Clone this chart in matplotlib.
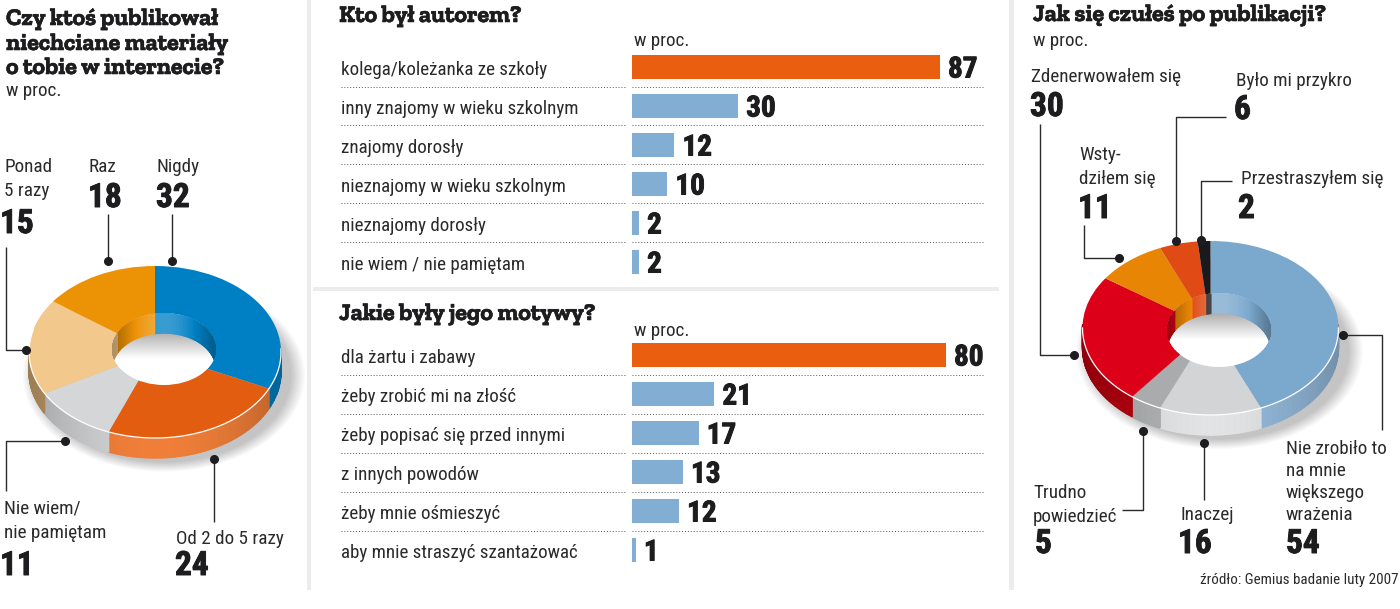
import numpy as np
import matplotlib
matplotlib.use('Agg')
import matplotlib.pyplot as plt
import matplotlib.patheffects as pe
from matplotlib.patches import Ellipse
from matplotlib.colors import to_rgb

W, H = 1400, 609

# lewy wykres (kolejnosc i wielkosc wycinkow jak na obrazku)
left_vals = [32, 24, 11, 18, 15]
left_top = ['#0080c4', '#e35d10', '#d5d6d8', '#f3c88c', '#ec9205']
left_side = ['#0080c4', '#f07e38', '#d0d1d3', '#c9a06a', '#ec9205']

# prawy wykres
right_vals = [54, 16, 5, 30, 11, 6, 2]
right_top = ['#7ba8cd', '#d3d4d6', '#a9abad', '#dc0018', '#e98505', '#e04a14', '#1a1a1e']
right_side = ['#93b8da', '#e2e3e5', '#b0b2b4', '#b8000f', '#e98505', '#e04a14', '#1a1a1e']

# slupki
authors = ['kolega/koleżanka ze szkoły', 'inny znajomy w wieku szkolnym', 'znajomy dorosły',
           'nieznajomy w wieku szkolnym', 'nieznajomy dorosły', 'nie wiem / nie pamiętam']
authors_vals = [87, 30, 12, 10, 2, 2]
motives = ['dla żartu i zabawy', 'żeby zrobić mi na złość', 'żeby popisać się przed innymi',
           'z innych powodów', 'żeby mnie ośmieszyć', 'aby mnie straszyć szantażować']
motives_vals = [80, 21, 17, 13, 12, 1]

BODY = ['Roboto Condensed', 'Roboto', 'DejaVu Sans']
TITLE = ['Zilla Slab', 'Roboto Slab', 'Roboto', 'DejaVu Sans']
INK = '#1d1d1f'
HEAVY = [pe.withStroke(linewidth=0.7, foreground=INK)]
HEAVY_TITLE = [pe.withStroke(linewidth=0.4, foreground=INK)]

fig = plt.figure(figsize=(W / 100, H / 100), dpi=100, facecolor='white')

# warstwa w pikselach na teksty i linie
page = fig.add_axes([0, 0, 1, 1], zorder=5)
page.set_xlim(0, W)
page.set_ylim(H, 0)
page.axis('off')

bg = fig.add_axes([0, 0, 1, 1], zorder=0)
bg.set_xlim(0, W)
bg.set_ylim(H, 0)
bg.axis('off')
bg.axvspan(307, 311, ymin=1 - 590 / H, ymax=1, color='#ececec', lw=0)
bg.axvspan(1009, 1014, ymin=1 - 590 / H, ymax=1, color='#ececec', lw=0)
bg.axhspan(287, 290.5, xmin=313 / W, xmax=999 / W, color='#ececec', lw=0)


def label(x, y, s, size=13.8):
    page.text(x, y + 0.5, s, family=BODY, fontsize=size, color='#2a2a2c', va='baseline')


def number(x, y, s, size=24):
    page.text(x, y, s, family=BODY, fontsize=size, fontweight='bold', color=INK, va='baseline', path_effects=HEAVY)


def title(x, y, s, size=17.2):
    page.text(x, y, s, family=TITLE, fontsize=size, fontweight='bold', color=INK, va='baseline',
              path_effects=HEAVY_TITLE)


def leader(xs, ys):
    page.plot(xs, ys, color='#2a2a2c', lw=1.0, solid_capstyle='butt')
    page.plot(xs[-1], ys[-1], 'o', color='#1d1d1f', ms=5.5)


def shade(color, f):
    c = np.array(to_rgb(color))
    if f <= 1:
        return tuple(c * f)
    return tuple(c + (1 - c) * (f - 1))


def donut(vals, top, side, cx, cy, rx, ry, depth, hole, rim):
    span = 1.6
    ax = fig.add_axes([(cx - span * rx) / W, 1 - (cy + span * ry) / H, 2 * span * rx / W, 2 * span * ry / H],
                      zorder=2)
    d = depth / ry
    fr = np.array(vals) / sum(vals)
    edges = np.pi / 2 - 2 * np.pi * np.concatenate([[0], np.cumsum(fr)])

    # cien
    for k in range(12):
        grow = 1 + 0.01 * (12 - k)
        ax.add_patch(Ellipse((0.07, -d - 0.04), 2 * grow, 2 * grow, color='black', alpha=0.02, lw=0))

    # bok zewnetrzny
    for i, c in enumerate(side):
        ts = np.linspace(edges[i], edges[i + 1], 60)
        for t0, t1 in zip(ts[:-1], ts[1:]):
            if np.sin((t0 + t1) / 2) > 0.05:
                continue
            f = 1 - 0.22 * abs(np.cos((t0 + t1) / 2)) ** 2
            xs = [np.cos(t0), np.cos(t1), np.cos(t1), np.cos(t0)]
            ys = [np.sin(t0), np.sin(t1), np.sin(t1) - d, np.sin(t0) - d]
            ax.fill(xs, ys, color=shade(c, f), lw=1.0)

    ax.pie(vals, colors=top, startangle=90, counterclock=False, radius=1, wedgeprops={'linewidth': 0})

    # dziura
    hx, hy, hrx, hry = hole[0] / rx, hole[1] / ry, hole[2] / rx, hole[3] / ry
    clip = Ellipse((hx, hy), 2 * hrx, 2 * hry, facecolor='white', lw=0)
    ax.add_patch(clip)
    grad = np.clip(np.linspace(0.68, 1.12, 80), 0, 1).reshape(-1, 1)
    im = ax.imshow(grad, cmap='gray', vmin=0, vmax=1, aspect='auto',
                   extent=(hx - hrx, hx + hrx, hy + hry - d - 0.42, hy + hry - d), zorder=3)
    im.set_clip_path(clip)

    # sciana wewnetrzna
    ts = np.linspace(0, np.pi, 121)
    for t0, t1 in zip(ts[:-1], ts[1:]):
        tm = (t0 + t1) / 2
        px, py = hx + hrx * np.cos(tm), hy + hry * np.sin(tm)
        ang = (np.pi / 2 - np.arctan2(py, px)) % (2 * np.pi)
        idx = min(np.searchsorted(np.cumsum(fr) * 2 * np.pi, ang), len(vals) - 1)
        f = 0.72 + 0.5 * np.sin(tm) ** 3
        xs = [hx + hrx * np.cos(t0), hx + hrx * np.cos(t1), hx + hrx * np.cos(t1), hx + hrx * np.cos(t0)]
        ys = [hy + hry * np.sin(t0), hy + hry * np.sin(t1), hy + hry * np.sin(t1) - d, hy + hry * np.sin(t0) - d]
        for poly in ax.fill(xs, ys, color=shade(top[idx], f), lw=1.0, zorder=4):
            poly.set_clip_path(clip)

    # biala krawedz
    tr = np.linspace(rim[0], rim[1], 100)
    ax.plot(np.cos(tr), np.sin(tr), color='white', lw=0.9, zorder=5)

    ax.set_aspect('auto')
    ax.set_xlim(-span, span)
    ax.set_ylim(-span, span)
    ax.axis('off')
    ax.patch.set_alpha(0)


donut(left_vals, left_top, left_side, 155, 352, 126, 86, 20, (9, 3, 52, 36), (np.radians(165), np.radians(362)))
donut(right_vals, right_top, right_side, 1210.5, 328, 128, 87, 20, (8.5, -2, 52, 37), (np.radians(180), np.radians(360)))


def bars(names, vals, top_row, scale):
    row = 39
    x0, x1, bar0 = 341, 985, 632
    ax = fig.add_axes([x0 / W, 1 - (top_row + 5.5 * row) / H, (x1 - x0) / W, 6 * row / H], zorder=3)
    ax.set_xlim(-(bar0 - x0) / scale, (x1 - bar0) / scale)
    ax.set_ylim(5.5, -0.5)
    cols = ['#ea5f0f'] + ['#82aed3'] * 5
    ax.barh(range(len(vals)), vals, height=24 / row, color=cols, lw=0)
    for i, (n, v) in enumerate(zip(names, vals)):
        ax.text(-(bar0 - x0) / scale, i + 0.2, n, family=BODY, fontsize=13.7, color='#2a2a2c', va='baseline')
        ax.text(v + 8 / scale, i + 0.27, str(v), family=BODY, fontsize=21, fontweight='bold', color=INK,
                va='baseline', path_effects=HEAVY)
        if i < 5:
            ax.plot([-(bar0 - x0) / scale, -7 / scale], [i + 0.5, i + 0.5], color='#555555', lw=0.7, ls=(0, (1, 2)))
            ax.plot([0, (x1 - bar0) / scale], [i + 0.5, i + 0.5], color='#555555', lw=0.7, ls=(0, (1, 2)))
    ax.axis('off')


bars(authors, authors_vals, 67, 308 / 87)
bars(motives, motives_vals, 355, 314 / 80)

title(6, 25, 'Czy ktoś publikował')
title(6, 50, 'niechciane materiały')
title(6, 74, 'o tobie w internecie?')
label(6, 95, 'w proc.')
title(339, 22, 'Kto był autorem?')
label(634, 46, 'w proc.')
title(339, 320, 'Jakie były jego motywy?')
label(634, 335, 'w proc.')
title(1033, 21, 'Jak się czułeś po publikacji?')
label(1033, 46, 'w proc.')

label(4, 172, 'Ponad')
label(4, 195, '5 razy')
number(0, 233, '15')
label(88, 171, 'Raz')
number(88, 207, '18')
label(157, 171, 'Nigdy')
number(156, 207, '32')
label(4, 513, 'Nie wiem/')
label(4, 538, 'nie pamiętam')
number(0, 575, '11')
label(176, 543, 'Od 2 do 5 razy')
number(175, 575, '24')

label(1031, 81, 'Zdenerwowałem się')
number(1030, 116, '30')
label(1236, 85, 'Było mi przykro')
number(1234, 119, '6')
label(1079, 160, 'Wsty-')
label(1079, 184, 'dziłem się')
number(1078, 218, '11')
label(1241, 184, 'Przestraszyłem się')
number(1238, 218, '2')
label(1286, 453, 'Nie zrobiło to')
label(1286, 476, 'na mnie')
label(1286, 498, 'większego')
label(1286, 520, 'wrażenia')
number(1286, 553, '54')
label(1033, 498, 'Trudno')
label(1033, 521, 'powiedzieć')
number(1035, 553, '5')
label(1180, 519, 'Inaczej')
number(1178, 553, '16')
page.text(1399, 584, 'źródło: Gemius badanie luty 2007', family=BODY, fontsize=10.8, color='#2a2a2c',
          ha='right', va='baseline')

leader([172, 172], [214, 261])
leader([107.5, 107.5], [214, 261])
leader([6, 6, 26], [247, 350, 350])
leader([6, 6, 65], [491, 441, 441])
leader([213.5, 213.5], [522, 459])
leader([1040, 1040, 1074], [124, 355, 355])
leader([1084, 1084, 1119], [225, 258, 258])
leader([1226, 1176, 1176], [117, 117, 241])
leader([1232, 1201, 1201], [181, 181, 240])
leader([1382, 1382, 1343], [430, 335, 335])
leader([1204, 1204], [500, 443])
leader([1122, 1143, 1143], [510, 510, 431])

fig.savefig('out.png', dpi=100)
